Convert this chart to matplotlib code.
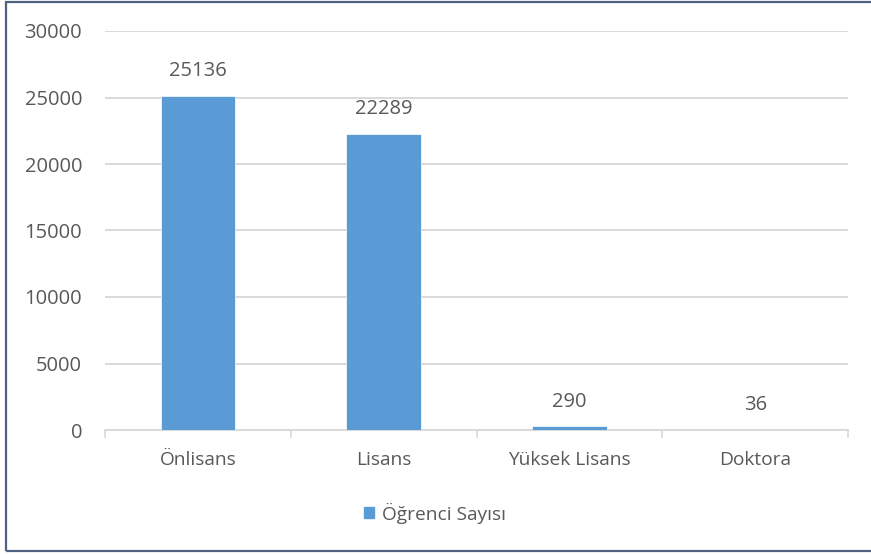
import numpy as np
import matplotlib.pyplot as plt
import matplotlib.patches as mpatches

# Students per degree level
levels = ["Önlisans", "Lisans", "Yüksek Lisans", "Doktora"]
students = [25136, 22289, 290, 36]
series_name = "Öğrenci Sayısı"
y_ticks = [0, 5000, 10000, 15000, 20000, 25000, 30000]

bar_color = "#5B9BD5"
grid_color = "#D9D9D9"
text_color = "#595959"

plt.rcParams['font.family'] = ['Open Sans', 'DejaVu Sans']

fig = plt.figure(figsize=(8.71, 5.54), dpi=100)
ax = fig.add_axes([105 / 871, 1 - 430 / 554, 743 / 871, 399 / 554])

x = np.arange(len(levels))
bars = ax.bar(x, students, width=0.4, color=bar_color, edgecolor="white",
              linewidth=0.5, zorder=3, label=series_name)

# value labels above each bar
for xi, v in zip(x, students):
    ax.annotate(str(v), (xi, v), xytext=(0, 14), textcoords="offset points",
                ha="center", va="baseline", fontsize=14.5, color=text_color)

ax.set_xlim(-0.5, len(levels) - 0.5)
ax.set_ylim(y_ticks[0], y_ticks[-1])
ax.set_yticks(y_ticks)
ax.set_yticklabels([str(t) for t in y_ticks])
ax.set_xticks(x)
ax.set_xticklabels(levels)
ax.set_xticks(np.arange(len(levels) + 1) - 0.5, minor=True)

ax.tick_params(axis="y", length=0, pad=16.5, labelsize=14.5, labelcolor=text_color)
ax.tick_params(axis="x", which="major", length=0, pad=15, labelsize=13.8,
               labelcolor=text_color)
ax.tick_params(axis="x", which="minor", length=6, width=1.2, color=grid_color)

ax.yaxis.grid(True, color=grid_color, linewidth=1.4, zorder=0)
for side in ["top", "right", "left"]:
    ax.spines[side].set_visible(False)
ax.spines["bottom"].set_color(grid_color)
ax.spines["bottom"].set_linewidth(1.4)

handle = mpatches.Patch(color=bar_color, label=series_name)
fig.legend(handles=[handle], loc="center", bbox_to_anchor=(435 / 871, 1 - 513 / 554),
           frameon=False, fontsize=13.8, labelcolor=text_color,
           handlelength=0.5, handleheight=0.5, handletextpad=0.4)

# chart border (left, top, bottom)
border = mpatches.Rectangle((5.5 / 871, 3 / 554), 1.2, 1 - 5 / 554,
                            transform=fig.transFigure, fill=False,
                            edgecolor="#4F6281", linewidth=1.6, zorder=10)
fig.patches.append(border)

fig.savefig("out.png", dpi=100)
